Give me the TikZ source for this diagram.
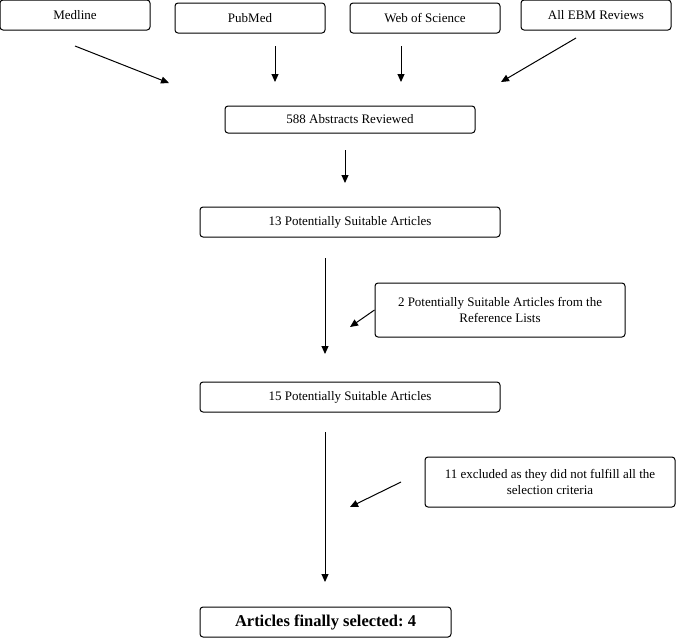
\documentclass[tikz,border=0pt]{standalone}
\usepackage{fontspec}
\setmainfont{Liberation Serif}
\usetikzlibrary{arrows.meta}
\frenchspacing
\tikzset{
  box/.style={draw,rounded corners=3pt,line width=1pt,minimum height=30pt,
    align=center,font=\fontsize{13}{16.5}\selectfont},
  arr/.style={-{Triangle[length=8pt,width=7pt]},line width=1pt}
}
\begin{document}
\begin{tikzpicture}[x=1pt,y=-1pt]
\useasboundingbox (0,0) rectangle (676,638);
% sources
\node[box,minimum width=150pt] (medline) at (75,15) {Medline};
\node[box,minimum width=150pt] (pubmed) at (250,18) {PubMed};
\node[box,minimum width=150pt] (wos) at (425,18) {Web of Science};
\node[box,minimum width=150pt] (ebm) at (596,15) {All EBM Reviews};
% main column
\node[box,minimum width=250pt,minimum height=27pt] (abs) at (350,119.5) {588 Abstracts Reviewed};
\node[box,minimum width=300pt] (p13) at (350,222) {13 Potentially Suitable Articles};
\node[box,minimum width=250pt,minimum height=54pt] (refl) at (500,310) {2 Potentially Suitable Articles from the\\Reference Lists};
\node[box,minimum width=300pt] (p15) at (350,397) {15 Potentially Suitable Articles};
\node[box,minimum width=250pt,minimum height=50pt] (excl) at (550,482) {11 excluded as they did not fulfill all the\\selection criteria};
\node[box,minimum width=251pt,font=\bfseries\fontsize{16.5}{19}\selectfont] (final) at (325.5,622) {Articles finally selected: 4};
% arrow ends
\coordinate (m1) at (75,46);   \coordinate (m2) at (169,83);
\coordinate (pm1) at (275,46); \coordinate (pm2) at (275,82);
\coordinate (w1) at (401,46);  \coordinate (w2) at (401,82);
\coordinate (e1) at (576,38);  \coordinate (e2) at (501,82);
\coordinate (a1) at (345,150); \coordinate (a2) at (345,183);
\coordinate (s1) at (325,258); \coordinate (s2) at (325,354);
\coordinate (r2) at (350,327);
\coordinate (t1) at (325,432); \coordinate (t2) at (325,582);
\coordinate (x1) at (401,482); \coordinate (x2) at (350,507);
\draw[arr] (m1) -- (m2);
\draw[arr] (pm1) -- (pm2);
\draw[arr] (w1) -- (w2);
\draw[arr] (e1) -- (e2);
\draw[arr] (a1) -- (a2);
\draw[arr] (s1) -- (s2);
\draw[arr] (refl.west) -- (r2);
\draw[arr] (t1) -- (t2);
\draw[arr] (x1) -- (x2);
\end{tikzpicture}
\end{document}
